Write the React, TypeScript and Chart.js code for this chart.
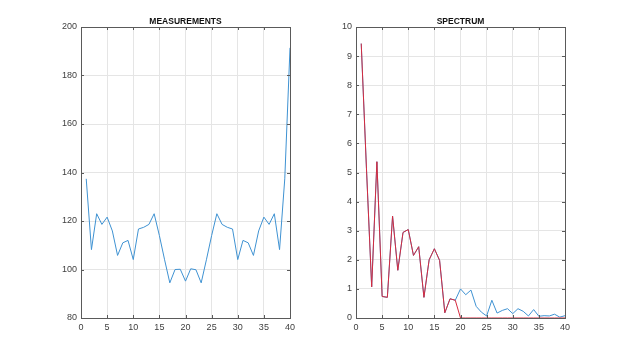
import React, { useEffect, useRef } from "react";
import { Chart, registerables } from "chart.js";

Chart.register(...registerables);

const sampleIndex = [1, 2, 3, 4, 5, 6, 7, 8, 9, 10, 11, 12, 13, 14, 15, 16, 17, 18, 19, 20, 21, 22, 23, 24, 25, 26, 27, 28, 29, 30, 31, 32, 33, 34, 35, 36, 37, 38, 39, 40];

const measurements = [137.4, 108.2, 123, 118.6, 121.6, 115.9, 105.8, 111, 112, 104.1, 116.7, 117.4, 118.6, 123, 114, 104, 94.5, 100, 100.1, 95.2, 100.3, 99.9, 94.5, 104, 114, 123, 118.6, 117.4, 116.7, 104.1, 112, 111, 105.8, 115.9, 121.6, 118.6, 123, 108.2, 137.4, 191.4];

const spectrumFull = [9.43, 5.15, 1.07, 5.37, 0.74, 0.71, 3.5, 1.64, 2.94, 3.04, 2.15, 2.45, 0.71, 2.0, 2.38, 1.98, 0.18, 0.66, 0.61, 1.0, 0.8, 0.96, 0.4, 0.2, 0.07, 0.61, 0.17, 0.26, 0.32, 0.15, 0.32, 0.23, 0.07, 0.29, 0.06, 0.08, 0.07, 0.13, 0.03, 0.08];

const spectrumFiltered = [9.43, 5.15, 1.07, 5.37, 0.74, 0.71, 3.5, 1.64, 2.94, 3.04, 2.15, 2.45, 0.71, 2.0, 2.38, 1.98, 0.18, 0.66, 0.61, 0, 0, 0, 0, 0, 0, 0, 0, 0, 0, 0, 0, 0, 0, 0, 0, 0, 0, 0, 0, 0];

const xTicks = { min: 0, max: 40, step: 5 };
const leftYTicks = { min: 80, max: 200, step: 20 };
const rightYTicks = { min: 0, max: 10, step: 1 };

const titles = ["MEASUREMENTS", "SPECTRUM"];

const FONT = "'Liberation Sans', Arial, sans-serif";
const BLUE = "#3f92d2";
const RED = "#d62a3e";

const toPoints = (vals: number[]) => sampleIndex.map((x, i) => ({ x, y: vals[i] }));

const matlabBox = (title: string) => ({
  id: "matlabBox",
  afterDraw(chart: any) {
    const { ctx, chartArea } = chart;
    const { left, right, top, bottom } = chartArea;
    const xs = chart.scales.x;
    const ys = chart.scales.y;
    ctx.save();
    ctx.strokeStyle = "#5a5a5a";
    ctx.lineWidth = 1;
    const tl = 3;
    ctx.beginPath();
    xs.ticks.forEach((t: any) => {
      const px = Math.round(xs.getPixelForValue(t.value)) + 0.5;
      ctx.moveTo(px, bottom);
      ctx.lineTo(px, bottom - tl);
      ctx.moveTo(px, top);
      ctx.lineTo(px, top + tl);
    });
    ys.ticks.forEach((t: any) => {
      const py = Math.round(ys.getPixelForValue(t.value)) + 0.5;
      ctx.moveTo(left, py);
      ctx.lineTo(left + tl, py);
      ctx.moveTo(right, py);
      ctx.lineTo(right - tl, py);
    });
    ctx.stroke();
    ctx.strokeRect(Math.round(left) + 0.5, Math.round(top) + 0.5, Math.round(right - left), Math.round(bottom - top));
    ctx.fillStyle = "#111";
    ctx.font = `bold 8.5px ${FONT}`;
    ctx.textAlign = "center";
    ctx.textBaseline = "alphabetic";
    ctx.fillText(title, (left + right) / 2, top - 3.5);
    ctx.restore();
  },
});

function makeConfig(
  datasets: any[],
  yt: { min: number; max: number; step: number },
  title: string,
  axisWidth: number,
  padRight: number
) {
  return {
    type: "line",
    data: { datasets },
    options: {
      animation: false,
      responsive: false,
      maintainAspectRatio: false,
      layout: { padding: { left: 0, right: padRight, top: 27, bottom: 0 } },
      plugins: { legend: { display: false }, tooltip: { enabled: false }, title: { display: false } },
      elements: { point: { radius: 0 }, line: { tension: 0, borderWidth: 1 } },
      scales: {
        x: {
          type: "linear",
          min: xTicks.min,
          max: xTicks.max,
          ticks: { stepSize: xTicks.step, padding: 4, color: "#404040", font: { family: FONT, size: 9 } },
          grid: { color: "#e5e5e5", drawTicks: false },
          border: { display: false },
          afterFit: (s: any) => {
            s.height = 39;
          },
        },
        y: {
          type: "linear",
          min: yt.min,
          max: yt.max,
          ticks: { stepSize: yt.step, padding: 4, color: "#404040", font: { family: FONT, size: 9 } },
          grid: { color: "#e5e5e5", drawTicks: false },
          border: { display: false },
          afterFit: (s: any) => {
            s.width = axisWidth;
          },
        },
      },
    },
    plugins: [matlabBox(title)],
  };
}

function Panel({ config, left }: { config: any; left: number }) {
  const ref = useRef<HTMLCanvasElement | null>(null);
  useEffect(() => {
    if (!ref.current) return;
    const chart = new Chart(ref.current, config);
    return () => chart.destroy();
  }, [config]);
  return (
    <canvas
      ref={ref}
      width={312}
      height={357}
      style={{ position: "absolute", left, top: 0, width: 312, height: 357 }}
    />
  );
}

const leftConfig = makeConfig(
  [
    {
      data: toPoints(measurements),
      borderColor: BLUE,
      backgroundColor: BLUE,
      fill: false,
    },
  ],
  leftYTicks,
  titles[0],
  81,
  22
);

const rightConfig = makeConfig(
  [
    {
      data: toPoints(spectrumFiltered),
      borderColor: RED,
      backgroundColor: RED,
      fill: false,
    },
    {
      data: toPoints(spectrumFull),
      borderColor: BLUE,
      backgroundColor: BLUE,
      fill: false,
    },
  ],
  rightYTicks,
  titles[1],
  44,
  59
);

export default function App() {
  return (
    <div style={{ position: "absolute", left: 0, top: 0, width: 624, height: 357, background: "#fff" }}>
      <Panel config={leftConfig} left={0} />
      <Panel config={rightConfig} left={312} />
    </div>
  );
}
